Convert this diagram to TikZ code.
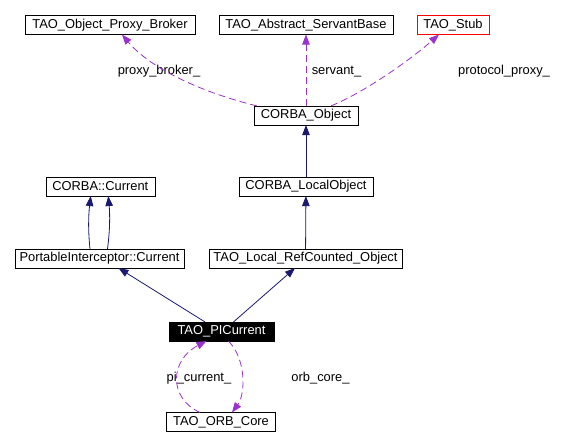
\documentclass[tikz,border=0pt]{standalone}
\usepackage{fontspec}
\setmainfont{Liberation Sans}
\usetikzlibrary{arrows.meta}
\definecolor{inhblue}{RGB}{25,25,112}
\definecolor{usepurple}{RGB}{154,50,205}

\begin{document}
\begin{tikzpicture}[x=1pt,y=-1pt,font=\fontsize{12.9}{15}\selectfont,
  cls/.style={draw,minimum height=18.7pt,inner xsep=4pt,inner ysep=0pt},
  inh/.style={draw=inhblue,line width=0.8pt,-{Triangle[length=10pt,width=7.5pt]}},
  use/.style={draw=usepurple,line width=0.8pt,dash pattern=on 7pt off 4pt,-{Triangle[length=10pt,width=7.5pt]}}]
\fill[white] (0,0) rectangle (568,446);
\useasboundingbox (0,0) rectangle (568,446);
\node[cls,minimum width=170pt] (broker) at (110,25) {TAO\_Object\_Proxy\_Broker};
\node[cls,minimum width=174pt] (servant) at (306,25) {TAO\_Abstract\_ServantBase};
\node[cls,minimum width=72pt,draw=red] (stub) at (453,25) {TAO\_Stub};
\node[cls,minimum width=104pt] (obj) at (306,115.5) {CORBA\_Object};
\node[cls,minimum width=109pt] (cur) at (100.3,186.5) {CORBA::Current};
\node[cls,minimum width=134pt] (lobj) at (306,186.5) {CORBA\_LocalObject};
\node[cls,minimum width=169pt] (pic) at (99.5,258.5) {PortableInterceptor::Current};
\node[cls,minimum width=193pt] (rco) at (305.5,258.5) {TAO\_Local\_RefCounted\_Object};
\node[cls,minimum width=105pt,fill=black,text=white] (tpc) at (221.5,331.5) {TAO\_PICurrent};
\node[cls,minimum width=109pt] (orb) at (221,422) {TAO\_ORB\_Core};
\node (lbroker) at (159,71.5) {proxy\_broker\_};
\node (lservant) at (336.5,71.5) {servant\_};
\node (lproxy) at (504,71.5) {protocol\_proxy\_};
\node (lpicur) at (199,378) {pi\_current\_};
\node (lorb) at (320.5,378) {orb\_core\_};
\draw[use] ([xshift=-49pt]obj.north) .. controls (200,92) and (150,68) .. ([xshift=12pt]broker.south);
\draw[use] (obj.north) -- (servant.south);
\draw[use] ([xshift=25pt]obj.north) .. controls (365,92) and (410,60) .. ([xshift=-14pt]stub.south);
\draw[inh] (lobj) -- (obj);
\draw[inh] ([xshift=-9.5pt]pic.north) .. controls (88,230) and (88.5,215) .. ([xshift=-9.6pt]cur.south);
\draw[inh] ([xshift=8pt]pic.north) .. controls (110,230) and (110,215) .. ([xshift=8pt]cur.south);
\draw[inh] (rco) -- (lobj);
\draw[inh] ([xshift=-16.5pt]tpc.north) -- ([xshift=19pt]pic.south);
\draw[inh] ([xshift=12pt]tpc.north) -- ([xshift=-10.5pt]rco.south);
\draw[use] ([xshift=7pt]tpc.south) .. controls (247,360) and (245,395) .. ([xshift=11pt]orb.north);
\draw[use] ([xshift=-21pt]orb.north) .. controls (168,398) and (170,360) .. ([xshift=-15pt]tpc.south);
\end{tikzpicture}
\end{document}
